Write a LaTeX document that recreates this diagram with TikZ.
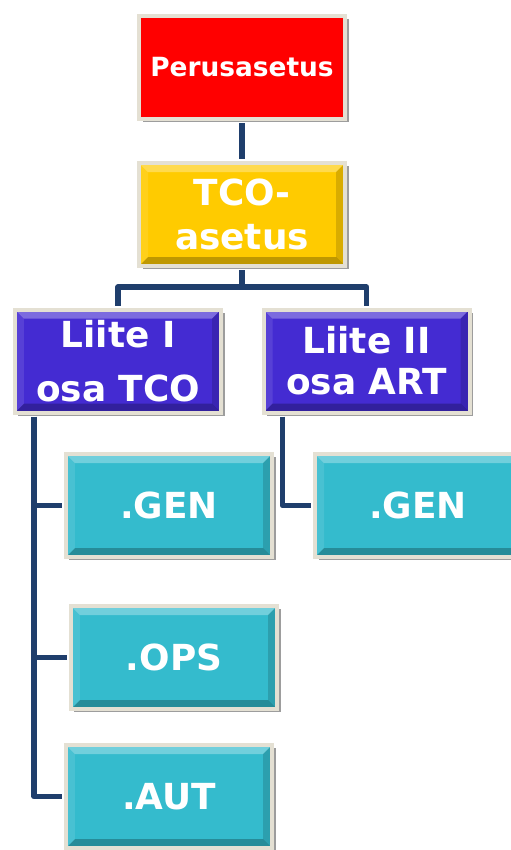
\documentclass[tikz,border=0pt]{standalone}
\usepackage{fontspec}
\newfontfamily\boxfont{DejaVu Sans}
\usetikzlibrary{shadows}
\definecolor{peruRed}{HTML}{FF0000}
\definecolor{tcoGold}{HTML}{FFCB00}
\definecolor{liiteBlue}{HTML}{442BD2}
\definecolor{osaTeal}{HTML}{34BBCD}
\definecolor{frameGray}{HTML}{E4E0D3}
\definecolor{linkBlue}{HTML}{1F3E6C}
\tikzset{
    org-box/.style = {rectangle, draw=frameGray, line width=4bp, fill=#1, minimum width=206bp, minimum height=103bp,
        inner sep=0pt, text=white, align=center, font=\boxfont\bfseries\fontsize{36}{45}\selectfont,
        drop shadow={shadow xshift=3.5bp, shadow yshift=-3bp, opacity=0.55, fill=black!70}},
    bevel/.style = {path picture={
        \fill[white, opacity=0.3] (path picture bounding box.north west) -- (path picture bounding box.north east)
            -- ([shift={(-9bp,-9bp)}]path picture bounding box.north east) -- ([shift={(9bp,-9bp)}]path picture bounding box.north west) -- cycle;
        \fill[black, opacity=0.25] (path picture bounding box.south west) -- (path picture bounding box.south east)
            -- ([shift={(-9bp,9bp)}]path picture bounding box.south east) -- ([shift={(9bp,9bp)}]path picture bounding box.south west) -- cycle;
        \fill[black, opacity=0.15] (path picture bounding box.north east) -- (path picture bounding box.south east)
            -- ([shift={(-9bp,9bp)}]path picture bounding box.south east) -- ([shift={(-9bp,-9bp)}]path picture bounding box.north east) -- cycle;
        \fill[white, opacity=0.1] (path picture bounding box.north west) -- (path picture bounding box.south west)
            -- ([shift={(9bp,9bp)}]path picture bounding box.south west) -- ([shift={(9bp,-9bp)}]path picture bounding box.north west) -- cycle;
    }},
    conn/.style = {draw=linkBlue, line width=5.5bp, line join=round, shorten <=2bp, shorten >=2bp},
}
\begin{document}
\begin{tikzpicture}[x=1bp, y=-1bp]
\useasboundingbox (0,0) rectangle (511,850);
\clip (0,0) rectangle (511,850);
% upper levels
\node[org-box=peruRed, font=\boxfont\bfseries\fontsize{26.5}{32}\selectfont] (peru) at (242,67.5) {Perusasetus};
\node[org-box=tcoGold, bevel] (tco) at (242,214.5) {TCO-\\asetus};
\node[org-box=liiteBlue, bevel] (liite1) at (118,361) {Liite I\\[9bp]osa TCO};
\node[org-box=liiteBlue, bevel] (liite2) at (366.5,361) {Liite II\\[-4bp]osa ART};
% parts
\node[org-box=osaTeal, bevel] (gen1) at (169,505.5) {.GEN};
\node[org-box=osaTeal, bevel] (ops) at (174,657.5) {.OPS};
\node[org-box=osaTeal, bevel] (aut) at (169,796.5) {.AUT};
\node[org-box=osaTeal, bevel] (gen2) at (418,505.5) {.GEN};
% connectors
\coordinate (bus) at (242,287);
\coordinate (spine1) at ([xshift=21bp]liite1.south west);
\coordinate (spine2) at ([xshift=21bp]liite2.south west);
\draw[conn] (peru) -- (tco);
\draw[conn] (tco) -- (bus) -| (liite1);
\draw[conn, shorten <=0bp] ([xshift=-2.75bp]bus) -| (liite2);
\draw[conn] (spine1) |- (aut.west);
\draw[conn] (spine1 |- gen1.west) -- (gen1.west);
\draw[conn] (spine1 |- ops.west) -- (ops.west);
\draw[conn] (spine2) |- (gen2.west);
\end{tikzpicture}
\end{document}
